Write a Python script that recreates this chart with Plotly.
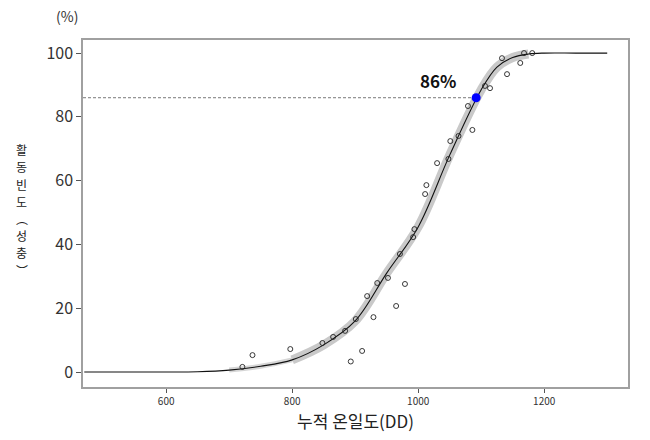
import plotly.graph_objects as go

# Fitted curve
curve_x = [470, 600, 650, 700, 750, 800, 850, 900, 950, 1000, 1050, 1100, 1125, 1150, 1175, 1200, 1250, 1300]
curve_y = [0, 0, 0.1, 0.6, 1.8, 3.8, 8.5, 16, 31, 45.5, 68, 88.5, 95.6, 98.6, 99.7, 100, 100, 100]

# Observed points
obs_x = [721, 737, 797, 848, 865, 884, 893, 911, 901, 929, 919, 935, 952, 965, 979, 971,
         992, 994, 1011, 1013, 1030, 1048, 1051, 1064, 1086, 1079, 1106, 1114, 1141, 1133,
         1162, 1168, 1181]
obs_y = [1.6, 5.3, 7.2, 9.1, 11, 12.9, 3.3, 6.6, 16.6, 17.2, 23.8, 27.9, 29.5, 20.7, 27.6, 37,
         42.3, 44.8, 55.8, 58.6, 65.5, 66.8, 72.4, 74, 75.9, 83.4, 89.7, 89, 93.4, 98.4,
         96.9, 100, 100]

target_x = 1092
target_y = 86
target_label = "86%"

x_ticks = [600, 800, 1000, 1200]
y_ticks = [0, 20, 40, 60, 80, 100]
x_range = [468, 1333]
y_range = [-4.7, 104.1]

y_title_chars = list("활동빈도") + ["︵"] + list("성충") + ["︶"]

band_lo, band_hi = 790, 1190
tail_lo, tail_hi = 700, 800
band_x = [x for x in curve_x if band_lo <= x <= band_hi]
band_y = [y for x, y in zip(curve_x, curve_y) if band_lo <= x <= band_hi]
tail_x = [x for x in curve_x if tail_lo <= x <= tail_hi]
tail_y = [y for x, y in zip(curve_x, curve_y) if tail_lo <= x <= tail_hi]

fig = go.Figure()

fig.add_trace(go.Scatter(x=tail_x, y=tail_y, mode="lines",
                         line=dict(color="#d6d6d6", width=5, shape="spline"),
                         hoverinfo="skip", showlegend=False))
fig.add_trace(go.Scatter(x=band_x, y=band_y, mode="lines",
                         line=dict(color="#c9c9c9", width=9, shape="spline"),
                         hoverinfo="skip", showlegend=False))
fig.add_trace(go.Scatter(x=curve_x, y=curve_y, mode="lines",
                         line=dict(color="#111111", width=1.1, shape="spline"),
                         showlegend=False))
fig.add_trace(go.Scatter(x=[x_range[0], target_x], y=[target_y, target_y], mode="lines",
                         line=dict(color="#555555", width=0.8, dash="3px,2px"),
                         showlegend=False))
fig.add_trace(go.Scatter(x=obs_x, y=obs_y, mode="markers",
                         marker=dict(symbol="circle-open", size=5, color="#222222",
                                     line=dict(width=0.9, color="#222222")),
                         showlegend=False))
fig.add_trace(go.Scatter(x=[target_x], y=[target_y], mode="markers",
                         marker=dict(symbol="circle", size=9, color="#0000ff"),
                         showlegend=False))

fig.add_annotation(x=target_x - 60, y=target_y + 5.5, text="<b>%s</b>" % target_label,
                   showarrow=False, font=dict(size=17, color="#111111",
                                              family="Noto Sans CJK KR"))

# stacked vertical y-axis title
for i, ch in enumerate(y_title_chars):
    fig.add_annotation(xref="paper", yref="paper", x=-0.112, y=0.6836,
                       yshift=-17.2 * i, text=ch, showarrow=False, borderpad=0,
                       font=dict(size=12, color="#222222", family="Noto Sans CJK KR"),
                       xanchor="center", yanchor="middle")

fig.add_annotation(xref="paper", yref="paper", x=-0.029, y=1.0, yshift=12, text="(%)",
                   showarrow=False, font=dict(size=14, color="#333333",
                                              family="Noto Sans CJK KR"),
                   xanchor="center", yanchor="bottom")

fig.update_layout(
    width=650, height=440,
    margin=dict(l=83, r=22, t=40, b=53),
    plot_bgcolor="white", paper_bgcolor="white",
    font=dict(family="Noto Sans CJK KR", color="#333333"),
)
fig.update_xaxes(range=x_range, tickvals=x_ticks, showgrid=False, zeroline=False,
                 showline=True, linecolor="#a0a0a0", linewidth=1.5, mirror=True,
                 ticks="outside", ticklen=4, tickcolor="#555555",
                 tickfont=dict(size=10, color="#333333"),
                 title=dict(text="누적 온일도(DD)", font=dict(size=17, color="#222222"),
                            standoff=8))
fig.update_yaxes(range=y_range, tickvals=y_ticks, showgrid=False, zeroline=False,
                 showline=True, linecolor="#a0a0a0", linewidth=1.5, mirror=True,
                 ticks="outside", ticklen=5, tickcolor="#555555",
                 tickfont=dict(size=16, color="#333333"))

fig.write_html("out.html", config={"displayModeBar": False},
               post_script="document.body.style.margin='0';")
